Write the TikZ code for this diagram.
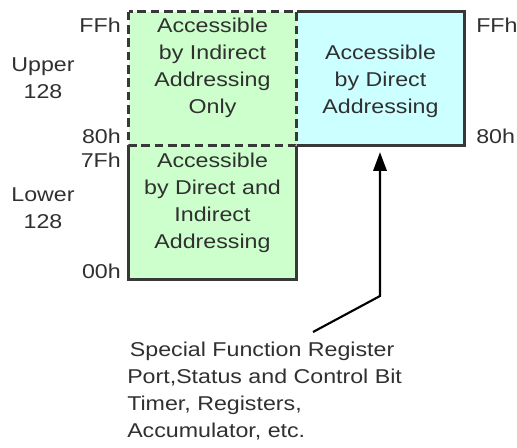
\documentclass[tikz,border=0pt]{standalone}
\usepackage{fontspec}
\setmainfont{Liberation Sans}[FakeStretch=1.16]
\usetikzlibrary{arrows.meta, positioning, calc}
\definecolor{boxgreen}{HTML}{CCFFCC}
\definecolor{boxcyan}{HTML}{CCFFFF}
\definecolor{edgegray}{HTML}{383838}
\definecolor{textgray}{HTML}{303030}

\begin{document}
\begin{tikzpicture}[
    x=0.75pt, y=-0.75pt,
    font=\fontsize{15}{20.25}\selectfont, text=textgray,
    region/.style={minimum width=126pt, minimum height=100.5pt, inner sep=0pt, outer sep=0pt},
    edge/.style={edgegray, line width=1.6pt},
    dashedge/.style={edgegray, line width=1.6pt, dash pattern=on 6.5pt off 3.5pt},
    caption/.style={align=center, inner sep=0pt},
    addr/.style={inner sep=0pt},
    pointer/.style={-{Triangle[length=14pt, width=10pt]}, line width=1.6pt, black},
]
    \useasboundingbox (0,0) rectangle (517,447);

    % Memory regions
    \node[region, fill=boxgreen] (lower) at (212.5,212.5) {};
    \node[region, fill=boxcyan] (direct) at (380.5,78.5) {};
    \node[region, fill=boxgreen] (upper) at (212.5,78.5) {};

    \draw[edge] (lower.north west) -- (lower.south west) -- (lower.south east) -- (lower.north east);
    \draw[edge] (direct.north west) -- (direct.north east) -- (direct.south east) -- (direct.south west);
    \draw[dashedge] (upper.north west) rectangle (upper.south east);

    % Region texts
    \node[caption] (upperText) at (212.5,68) {Accessible\\by Indirect\\Addressing\\Only};
    \node[caption] (directText) at (380.5,81) {Accessible\\by Direct\\Addressing};
    \node[caption] (lowerText) at (212.5,203) {Accessible\\by Direct and\\Indirect\\Addressing};

    % Address labels
    \node[addr, anchor=east] (ffLeft) at (121,25) {FFh};
    \node[addr, anchor=east] (eightyLeft) at (121,136) {80h};
    \node[addr, anchor=east] (sevenF) at (121,160) {7Fh};
    \node[addr, anchor=east] (zero) at (121,271) {00h};
    \node[addr, anchor=west] (ffRight) at (476,25) {FFh};
    \node[addr, anchor=west] (eightyRight) at (476,136) {80h};

    \node[caption] (upperHalf) at (43,78) {Upper\\128};
    \node[caption] (lowerHalf) at (43,208) {Lower\\128};

    % SFR note
    \node[caption, align=left, anchor=west] (sfr) at (127,391)
        {\hspace{2pt}Special Function Register\\Port,Status and Control Bit\\Timer, Registers,\\Accumulator, etc.};

    \coordinate (tail) at (313,332);
    \coordinate (bend) at (380,296);
    \draw[pointer, shorten >=5pt] (tail) -- (bend) -- (bend |- direct.south);

\end{tikzpicture}
\end{document}
